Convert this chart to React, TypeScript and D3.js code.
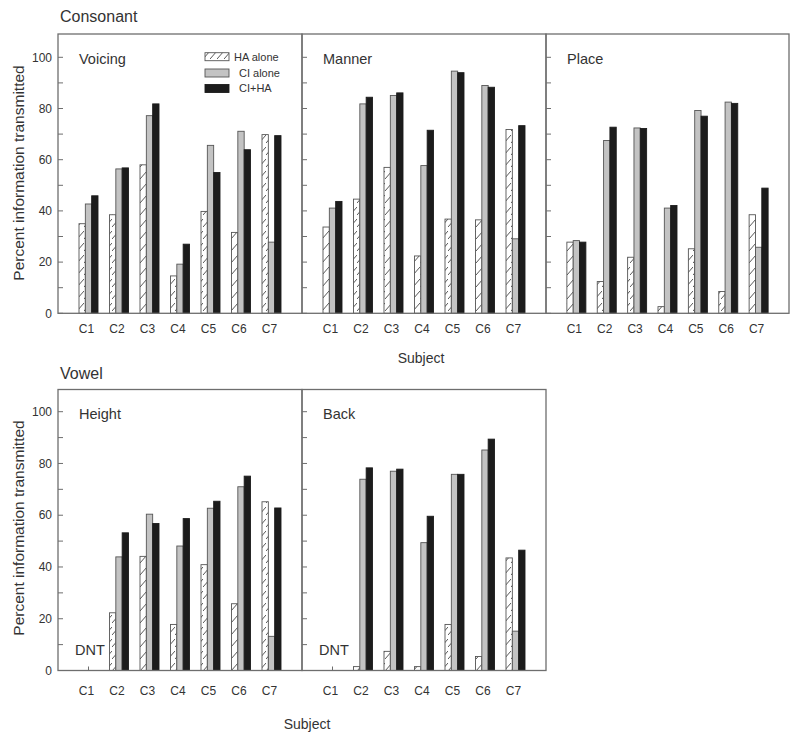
import React from "react";
import * as d3 from "d3";

const subjects = ["C1", "C2", "C3", "C4", "C5", "C6", "C7"];
const seriesKeys = ["HA alone", "CI alone", "CI+HA"];
const yTickValues = [0, 20, 40, 60, 80, 100];
const yMinorTicks = [0, 10, 20, 30, 40, 50, 60, 70, 80, 90, 100];

const voicingHA = [35, 38.5, 58, 14.6, 39.8, 31.6, 69.8];
const voicingCI = [42.7, 56.4, 77.2, 19.2, 65.6, 71.1, 27.8];
const voicingCIHA = [45.9, 56.8, 81.8, 27, 55, 63.9, 69.4];

const mannerHA = [33.7, 44.6, 57, 22.4, 36.8, 36.5, 71.8];
const mannerCI = [41.1, 81.8, 85.1, 57.7, 94.6, 89, 29.1];
const mannerCIHA = [43.7, 84.4, 86.1, 71.5, 94, 88.3, 73.3];

const placeHA = [27.8, 12.4, 21.9, 2.6, 25.2, 8.5, 38.5];
const placeCI = [28.4, 67.5, 72.4, 41.1, 79.2, 82.5, 25.8];
const placeCIHA = [27.8, 72.7, 72.2, 42.1, 77, 82, 48.9];

const heightHA = [null, 22.3, 44.1, 17.8, 40.9, 25.8, 65.2];
const heightCI = [null, 43.9, 60.4, 48.1, 62.7, 71, 13.2];
const heightCIHA = [null, 53.2, 56.8, 58.7, 65.4, 75.1, 62.8];

const backHA = [null, 1.5, 7.4, 1.5, 17.8, 5.4, 43.5];
const backCI = [null, 73.9, 77, 49.4, 75.8, 85.2, 15.2];
const backCIHA = [null, 78.3, 77.8, 59.6, 75.8, 89.4, 46.5];

const FONT = "'Liberation Sans', Arial, sans-serif";
const FRAME = "#6e6e6e";
const TEXT = "#333";

type Panel = {
  name: string;
  x0: number;
  x1: number;
  series: (number | null)[][];
  dnt?: boolean;
};

const fills = ["url(#hatch)", "#c3c3c3", "#1c1c1c"];
const strokes = ["#555", "#555", "#1c1c1c"];

function PanelView({
  p,
  y,
  top,
  first,
  labelY,
}: {
  p: Panel;
  y: d3.ScaleLinear<number, number>;
  top: number;
  first: boolean;
  labelY: number;
}) {
  const x = d3.scalePoint<string>().domain(subjects).range([p.x0, p.x1]).padding(1);
  const inner = d3.scaleBand<string>().domain(seriesKeys).range([-9.5, 9.5]).padding(0);
  const y0 = y(0);
  return (
    <g>
      {subjects.map((s) => (
        <line key={"xt" + s} x1={x(s)} x2={x(s)} y1={y0} y2={y0 - 4} stroke={FRAME} strokeWidth={1} />
      ))}
      {p.series.map((vals, si) =>
        vals.map((v, i) =>
          v == null ? null : (
            <rect
              key={si + "-" + i}
              x={(x(subjects[i]) as number) + (inner(seriesKeys[si]) as number)}
              width={inner.bandwidth()}
              y={y(v)}
              height={y0 - y(v)}
              fill={fills[si]}
              stroke={strokes[si]}
              strokeWidth={0.9}
            />
          )
        )
      )}
      <rect x={p.x0} y={top} width={p.x1 - p.x0} height={y0 - top} fill="none" stroke={FRAME} strokeWidth={1.3} />
      {yMinorTicks.map((t) => (
        <line key={"yt" + t} x1={p.x0} x2={p.x0 + 5} y1={y(t)} y2={y(t)} stroke={FRAME} strokeWidth={1} />
      ))}
      {first &&
        yTickValues.map((t) => (
          <text key={"yl" + t} x={p.x0 - 6} y={y(t)} dy="0.35em" textAnchor="end" fontSize={12} fill={TEXT} fontFamily={FONT}>
            {t}
          </text>
        ))}
      {subjects.map((s) => (
        <text key={"xl" + s} x={(x(s) as number) - 2} y={labelY} dy="0.35em" textAnchor="middle" fontSize={12} fill={TEXT} fontFamily={FONT}>
          {s}
        </text>
      ))}
      <text x={p.x0 + 21} y={y(100) + 2} dy="0.35em" fontSize={14.5} fill={TEXT} fontFamily={FONT}>
        {p.name}
      </text>
      {p.dnt && (
        <text x={p.x0 + 17} y={y(8)} dy="0.35em" fontSize={14.5} fill={TEXT} fontFamily={FONT}>
          DNT
        </text>
      )}
    </g>
  );
}

export default function App() {
  const yTop = d3.scaleLinear().domain([0, 100]).range([313.3, 57.3]);
  const yBot = d3.scaleLinear().domain([0, 100]).range([670.5, 411.7]);

  const topPanels: Panel[] = [
    { name: "Voicing", x0: 58, x1: 302, series: [voicingHA, voicingCI, voicingCIHA] },
    { name: "Manner", x0: 302, x1: 546, series: [mannerHA, mannerCI, mannerCIHA] },
    { name: "Place", x0: 546, x1: 789, series: [placeHA, placeCI, placeCIHA] },
  ];
  const botPanels: Panel[] = [
    { name: "Height", x0: 58, x1: 302, series: [heightHA, heightCI, heightCIHA], dnt: true },
    { name: "Back", x0: 302, x1: 546, series: [backHA, backCI, backCIHA], dnt: true },
  ];

  const legendY = [56.7, 73, 88.5];

  return (
    <svg
      width={800}
      height={733}
      style={{ position: "absolute", left: 0, top: 0, background: "#fff" }}
      fontFamily={FONT}
    >
      <defs>
        <pattern id="hatch" patternUnits="userSpaceOnUse" width={7} height={12}>
          <rect width={7} height={12} fill="#fff" />
          <line x1={0} y1={11} x2={7} y2={3} stroke="#444" strokeWidth={0.9} />
        </pattern>
      </defs>
      <rect width={800} height={733} fill="#fff" />

      <text x={60} y={16} dy="0.35em" fontSize={16} fill={TEXT}>Consonant</text>
      <text x={60} y={373} dy="0.35em" fontSize={16} fill={TEXT}>Vowel</text>

      {topPanels.map((p, i) => (
        <PanelView key={p.name} p={p} y={yTop} top={34} first={i === 0} labelY={328.5} />
      ))}
      {botPanels.map((p, i) => (
        <PanelView key={p.name} p={p} y={yBot} top={389.5} first={i === 0} labelY={690.5} />
      ))}

      {seriesKeys.map((k, i) => (
        <g key={k}>
          <rect x={205} y={legendY[i] - 4} width={24} height={8} fill={fills[i]} stroke={strokes[i]} strokeWidth={0.9} />
          <text x={i === 0 ? 234 : 239} y={legendY[i]} dy="0.35em" fontSize={11} fill={TEXT}>
            {k}
          </text>
        </g>
      ))}

      <text x={421} y={358} dy="0.35em" textAnchor="middle" fontSize={14} fill={TEXT}>Subject</text>
      <text x={307} y={724} dy="0.35em" textAnchor="middle" fontSize={14} fill={TEXT}>Subject</text>

      <text transform="translate(19,173) rotate(-90)" textAnchor="middle" dy="0.35em" fontSize={15.5} fill={TEXT}>
        Percent information transmitted
      </text>
      <text transform="translate(19,528) rotate(-90)" textAnchor="middle" dy="0.35em" fontSize={15.5} fill={TEXT}>
        Percent information transmitted
      </text>
    </svg>
  );
}
